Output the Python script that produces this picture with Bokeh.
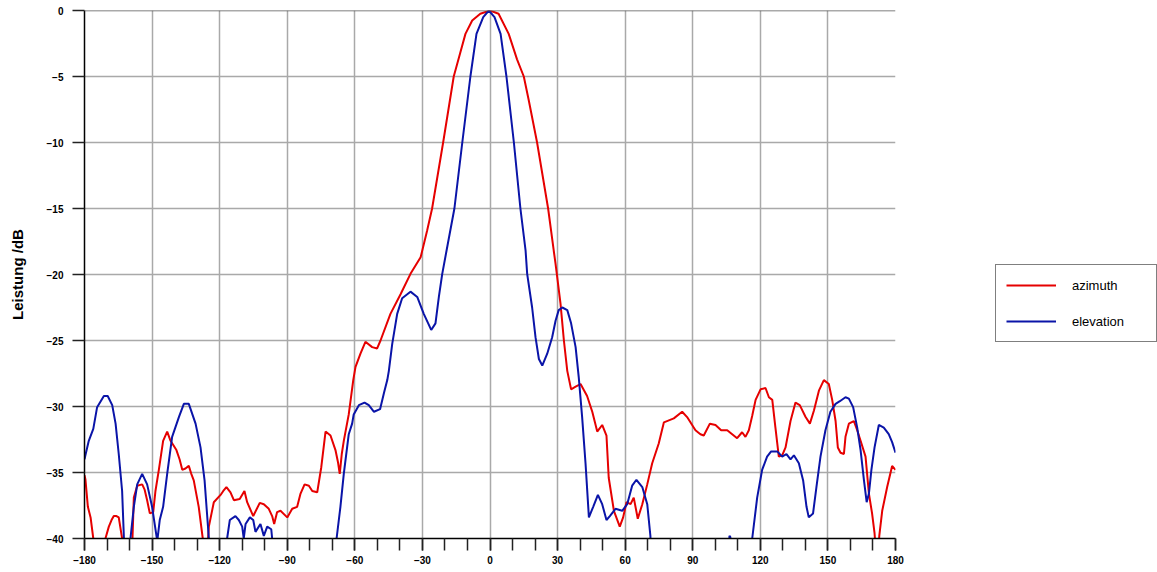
from bokeh.plotting import figure
from bokeh.models import (Range1d, FixedTicker, Legend, LegendItem, Span)
from bokeh.embed import file_html
from bokeh.resources import INLINE

# ---- data ----
az_deg = [-180, -179.6, -178.5, -177.3, -176.1, -175.5, -171.5, -170.7, -169.2, -168, -167,
          -165.8, -164.8, -163.3, -162.5, -159.2, -158.7, -158.1, -156.6, -154.4, -153.3,
          -152.2, -151, -149.5, -148.5, -147, -145.1, -143.3, -141.8, -139.2, -137.8, -136.6,
          -135.2, -133.7, -132.6, -131.5, -129.3, -127.5, -127, -125.5, -124.8, -122.6,
          -119.6, -118.4, -117, -115.2, -113.7, -111.1, -109, -107.8, -105.1, -102.2, -100.4,
          -98.2, -96.7, -95.8, -94.5, -93, -90, -87.8, -85.6, -84.1, -82.3, -80.4, -78.9,
          -76.7, -74.9, -73, -70.8, -68.6, -67.5, -66.7, -65.8, -64.9, -62.7, -60.7, -59.7,
          -57.5, -55.3, -52.3, -50.1, -48.6, -44.2, -39.7, -35.3, -30.8, -27.9, -25.7, -20.8,
          -16.1, -13.2, -10.9, -7.9, -4.3, 0, 3.8, 8.3, 12, 15, 17.2, 20.9, 25.8, 28.3, 29.1, 31.3,
          32.8, 34.3, 36, 38, 40.2, 43.1, 45.4, 47.6, 49.8, 51.7, 52.7, 55, 57.6, 59.1, 60.6,
          62.4, 63.8, 65.6, 67.6, 69.8, 72, 74.9, 77.2, 81.6, 85.3, 87.5, 91.2, 93.4, 94.9,
          97.6, 100.1, 102.6, 105.3, 107.5, 109.7, 111.9, 113.4, 114.9, 116.4, 117.9, 120.1,
          122.3, 123.8, 125.3, 126.7, 128.2, 129.7, 131.2, 133.4, 135.6, 137.5, 140.1, 142,
          143.8, 146, 148.2, 150.4, 151.9, 153.4, 154.4, 155.6, 157.1, 157.8, 159.3, 161.5,
          163, 164.5, 166.7, 168.2, 169.6, 170.7, 171.3, 172.4, 172.8, 174.1, 176.3, 178.5, 180]
az_db = [-35.2, -35.5, -37.6, -38.4, -40, -41, -41, -40, -39.1, -38.6, -38.3,
         -38.3, -38.4, -40, -41, -41, -40, -36.9, -36.0, -35.9, -36.3,
         -37.1, -38.1, -38.0, -36.4, -34.8, -32.6, -31.9, -32.6, -33.3, -34.0, -34.8,
         -34.7, -34.5, -35.1, -35.6, -37.6, -40, -41, -41, -39.1, -37.25,
         -36.7, -36.4, -36.1, -36.5, -37.1, -37.0, -36.4, -37.25, -38.3, -37.3, -37.4,
         -37.75, -38.3, -38.9, -38.0, -37.9, -38.4, -37.75, -37.6, -36.6, -35.9, -36.0, -36.4,
         -36.5, -34.6, -31.9, -32.2, -33.3, -34.2, -35.1, -33.6, -32.6, -30.6, -28.0, -27.0,
         -26.0, -25.1, -25.5, -25.6, -25.0, -22.98, -21.5, -19.95, -18.7, -16.67, -15, -10,
         -5, -3.2, -1.77, -0.76, -0.25, 0, -0.25, -1.77, -3.7, -5, -6.8, -10, -15, -18.2, -19.2, -22.2,
         -25, -27.3, -28.7, -28.5, -28.3, -29.2, -30.4, -31.9, -31.4, -32.2, -35.4, -37.9, -39.1, -38.4, -37.25,
         -37.4, -36.9, -38.5, -37.4, -35.9, -34.3, -32.8, -31.2, -30.9, -30.4, -30.8, -31.8, -32.1, -32.2,
         -31.3, -31.4, -31.8, -31.8, -32.1, -32.4, -31.95, -32.3, -31.8, -30.7, -29.5, -28.7,
         -28.6, -29.3, -29.5, -31.6, -33.8, -33.7, -33.1, -31.1, -29.7, -29.9, -30.8, -31.3,
         -30.3, -28.8, -28.0, -28.3, -29.5, -31.1, -33.1, -33.5, -33.6, -32.3, -31.3, -31.1,
         -31.8, -32.6, -33.8, -36.6, -38.1, -39.6, -41, -41, -39.8, -37.9, -36.1, -34.5, -34.8]

el_deg = [-180, -179.6, -178.1, -176.1, -174.4, -171.4, -169.7, -167.7, -166.2, -164.8, -163.3,
          -162.5, -162.2, -160, -159.6, -158.1, -156.6, -154.4, -152.2, -150, -147.7, -146.6,
          -145.1, -143.3, -141.1, -138.1, -135.9, -133.7, -130.7, -128.5, -126.7, -124.8, -124.5,
          -117, -116.7, -115.5, -113, -111.5, -110, -109.3, -108.5, -106.6, -105.1, -104.1,
          -101.9, -100.4, -98.9, -97.1, -96.7, -96.4, -68.5, -68.1, -66.4, -64.9, -62.7, -61.2,
          -60.5, -58.2, -55.7, -53.8, -51.5, -48.8, -47.1, -45.6, -44.9, -43.4, -41.2, -39,
          -35.3, -32.3, -29.4, -26.1, -24.2, -22.7, -21.2, -19.3, -15.8, -12.3, -8.7, -6, -3,
          -0.5, 2, 4.7, 7.3, 10.6, 13.5, 15.8, 16.5, 18.7, 20.2, 21.7, 23.2, 25.4, 27.6, 29.1,
          30.5, 32.1, 34.3, 36.0, 38, 39.4, 40.9, 42.4, 43.9, 45.8, 47.9, 49.8, 51.7, 53.2, 55.7,
          58.7, 60.9, 63.1, 65, 67.6, 69.8, 71.2, 71.5, 106, 106.3, 106.7, 107, 116.2, 116.4,
          118.6, 120.8, 123, 124.8, 127.5, 129.7, 131.6, 133.4, 134.9, 137.1, 139, 140.5, 141.5,
          143.4, 144.9, 146.7, 148.9, 151.1, 153.4, 155.3, 157.8, 159.3, 161.2, 163, 164.5, 166,
          167.2, 168.2, 169.3, 170.7, 172.6, 174.8, 177, 178.5, 180]
el_db = [-34.0, -33.7, -32.6, -31.7, -30.05, -29.2, -29.2, -29.9, -31.3, -33.6, -36.4,
         -40, -41, -41, -40, -37.6, -35.9, -35.1, -35.9, -37.6, -40.2, -38.6,
         -37.6, -35.1, -32.3, -30.8, -29.8, -29.8, -31.3, -33.1, -35.6, -40, -41,
         -41, -40, -38.6, -38.3, -38.6, -39.1, -40, -38.9, -38.4, -38.6, -39.5,
         -38.9, -39.8, -39.1, -39.3, -40, -41, -41, -40, -37.6, -35.1, -32.1, -31.3,
         -30.6, -29.9, -29.7, -29.9, -30.4, -30.2, -29.0, -28.0, -27.3, -25.25, -22.98, -21.8,
         -21.3, -21.7, -22.98, -24.2, -23.7, -21.7, -19.95, -18.2, -15, -10, -5, -1.77, -0.5,
         0, -0.5, -1.77, -5, -10, -15, -18.2, -19.95, -22.5, -24.75, -26.4, -26.9, -26.0, -24.75, -23.5,
         -22.7, -22.5, -22.7, -23.7, -25.5, -27.8, -30.8, -34.3, -38.4, -37.6, -36.7, -37.4, -38.6, -38.3, -37.75,
         -37.9, -37.4, -36.0, -35.55, -36.1, -37.4, -39.8, -41, -41, -39.8, -39.9, -41, -41, -40,
         -36.9, -34.8, -33.8, -33.4, -33.4, -33.8, -33.6, -34, -33.7, -34.3, -35.6, -37.6, -38.4,
         -38.1, -36.1, -33.8, -31.8, -30.4, -29.8, -29.6, -29.3, -29.4, -30.05, -31.6, -33.3, -35.6,
         -37.25, -36.6, -34.8, -33.1, -31.4, -31.6, -32.1, -32.7, -33.5]

x_ticks = [-180, -150, -120, -90, -60, -30, 0, 30, 60, 90, 120, 150, 180]
x_minor = list(range(-180, 181, 10))
y_ticks = [-40, -35, -30, -25, -20, -15, -10, -5, 0]
series_names = ["azimuth", "elevation"]
y_title = "Leistung /dB"

FONT = "Liberation Sans"

p = figure(frame_width=811, frame_height=528, output_backend="svg", toolbar_location=None,
           x_range=Range1d(-180, 180), y_range=Range1d(-40, 0),
           min_border_left=84, min_border_right=0, min_border_top=10, min_border_bottom=30)
p.outline_line_color = None
p.background_fill_color = "white"
p.border_fill_color = "white"

red = "#e60000"
blue = "#0a14a8"
r_az = p.line(az_deg, az_db, line_color=red, line_width=2)
r_el = p.line(el_deg, el_db, line_color=blue, line_width=2)

# axes
p.xaxis.ticker = FixedTicker(ticks=x_ticks, minor_ticks=x_minor)
p.yaxis.ticker = FixedTicker(ticks=y_ticks, minor_ticks=[])
for ax in (p.xaxis[0], p.yaxis[0]):
    ax.axis_line_color = "black"
    ax.axis_line_width = 1.5
    ax.major_tick_line_color = "#222222"
    ax.major_tick_line_width = 1.5
    ax.major_tick_in = 0
    ax.major_tick_out = 12
    ax.major_label_text_font = FONT
    ax.major_label_text_font_style = "bold"
    ax.major_label_text_font_size = "10px"
    ax.major_label_text_color = "black"
p.xaxis.minor_tick_line_color = "#222222"
p.xaxis.minor_tick_line_width = 1.5
p.xaxis.minor_tick_in = 0
p.xaxis.minor_tick_out = 12
p.xaxis.major_label_standoff = 5
p.yaxis.major_label_standoff = 9
p.yaxis.axis_label = y_title
p.yaxis.axis_label_text_font = FONT
p.yaxis.axis_label_text_font_style = "bold"
p.yaxis.axis_label_text_font_size = "15px"
p.yaxis.axis_label_text_color = "black"
p.yaxis.axis_label_standoff = 18

# grid
p.xgrid.grid_line_color = "#a9a9a9"
p.ygrid.grid_line_color = "#a9a9a9"
p.xgrid.grid_line_width = 1.5
p.ygrid.grid_line_width = 1.5
p.add_layout(Span(location=0, dimension="width", line_color="#555555", line_width=1.5))

legend = Legend(items=[LegendItem(label=series_names[0], renderers=[r_az]),
                       LegendItem(label=series_names[1], renderers=[r_el])],
                location=(100, 196), orientation="vertical")
legend.border_line_color = "black"
legend.border_line_width = 1
legend.background_fill_color = "white"
legend.background_fill_alpha = 1
legend.padding = 10
legend.margin = 0
legend.spacing = 16
legend.label_height = 20
legend.glyph_height = 20
legend.glyph_width = 50
legend.label_standoff = 16
legend.label_width = 74
legend.label_text_font = FONT
legend.label_text_font_size = "13px"
legend.label_text_color = "black"
p.add_layout(legend, "right")

open("out.html", "w").write(file_html(p, INLINE))
